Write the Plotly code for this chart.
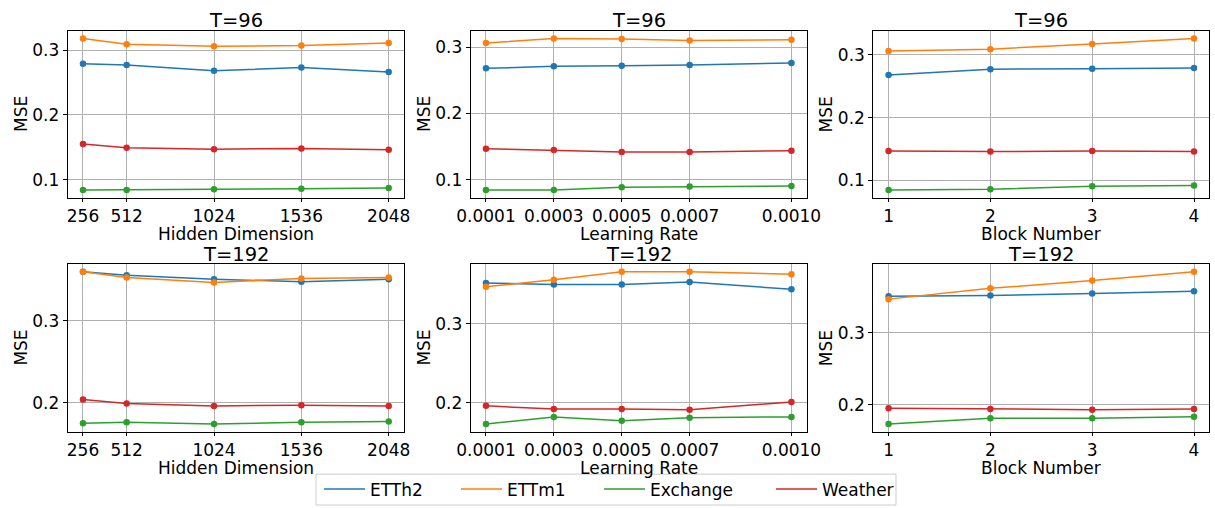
import plotly.graph_objects as go
from plotly.subplots import make_subplots

# ---------------- data ----------------
series_names = ["ETTh2", "ETTm1", "Exchange", "Weather"]
series_colors = ["#1f77b4", "#ff7f0e", "#2ca02c", "#d62728"]

hidden_dims = [256, 512, 1024, 1536, 2048]
learning_rates = [0.0001, 0.0003, 0.0005, 0.0007, 0.0010]
lr_labels = ["0.0001", "0.0003", "0.0005", "0.0007", "0.0010"]
block_numbers = [1, 2, 3, 4]

# T=96
hd96_etth2 = [0.279, 0.277, 0.268, 0.273, 0.266]
hd96_ettm1 = [0.318, 0.309, 0.306, 0.307, 0.311]
hd96_exchange = [0.084, 0.084, 0.085, 0.086, 0.087]
hd96_weather = [0.155, 0.149, 0.147, 0.148, 0.146]

lr96_etth2 = [0.268, 0.271, 0.272, 0.273, 0.276]
lr96_ettm1 = [0.306, 0.313, 0.312, 0.310, 0.311]
lr96_exchange = [0.085, 0.085, 0.089, 0.090, 0.091]
lr96_weather = [0.147, 0.145, 0.142, 0.142, 0.144]

bn96_etth2 = [0.268, 0.277, 0.278, 0.279]
bn96_ettm1 = [0.306, 0.309, 0.317, 0.326]
bn96_exchange = [0.085, 0.086, 0.091, 0.092]
bn96_weather = [0.147, 0.146, 0.147, 0.146]

# T=192
hd192_etth2 = [0.360, 0.356, 0.351, 0.348, 0.351]
hd192_ettm1 = [0.360, 0.353, 0.347, 0.352, 0.353]
hd192_exchange = [0.175, 0.176, 0.174, 0.176, 0.177]
hd192_weather = [0.204, 0.199, 0.196, 0.197, 0.196]

lr192_etth2 = [0.352, 0.350, 0.350, 0.353, 0.344]
lr192_ettm1 = [0.347, 0.356, 0.366, 0.366, 0.363]
lr192_exchange = [0.173, 0.182, 0.177, 0.181, 0.182]
lr192_weather = [0.196, 0.192, 0.192, 0.191, 0.201]

bn192_etth2 = [0.351, 0.352, 0.355, 0.358]
bn192_ettm1 = [0.347, 0.362, 0.373, 0.385]
bn192_exchange = [0.173, 0.181, 0.181, 0.183]
bn192_weather = [0.195, 0.194, 0.193, 0.194]

titles = ["T=96", "T=96", "T=96", "T=192", "T=192", "T=192"]
xlabels = ["Hidden Dimension", "Learning Rate", "Block Number"]
ylabel = "MSE"

panels = [
    (hidden_dims, [hd96_etth2, hd96_ettm1, hd96_exchange, hd96_weather]),
    (learning_rates, [lr96_etth2, lr96_ettm1, lr96_exchange, lr96_weather]),
    (block_numbers, [bn96_etth2, bn96_ettm1, bn96_exchange, bn96_weather]),
    (hidden_dims, [hd192_etth2, hd192_ettm1, hd192_exchange, hd192_weather]),
    (learning_rates, [lr192_etth2, lr192_ettm1, lr192_exchange, lr192_weather]),
    (block_numbers, [bn192_etth2, bn192_ettm1, bn192_exchange, bn192_weather]),
]
xtickvals = [hidden_dims, learning_rates, block_numbers]
xticktext = [[str(v) for v in hidden_dims], lr_labels, [str(v) for v in block_numbers]]

# ---------------- layout geometry (pixels) ----------------
W, H = 1215, 508
col_px = [(67.7, 404.0), (470.7, 806.7), (873.3, 1209.3)]
row_px = [(31.0, 198.3), (265.3, 433.3)]
legend_line_px = [323, 460, 603, 775]
legend_box_px = (316, 896, 476, 507)
FONT = "DejaVu Sans"

fig = make_subplots(rows=2, cols=3)

for i, (xs, ys_list) in enumerate(panels):
    r, c = i // 3 + 1, i % 3 + 1
    for k, ys in enumerate(ys_list):
        fig.add_trace(
            go.Scatter(
                x=xs, y=ys, mode="lines+markers", name=series_names[k],
                line=dict(color=series_colors[k], width=1.5),
                marker=dict(color=series_colors[k], size=6.5),
                legendgroup=series_names[k], showlegend=False,
            ),
            row=r, col=c,
        )

# legend proxies (line only, like the reference legend)
for k, name in enumerate(series_names):
    lg = "legend" if k == 0 else "legend%d" % (k + 1)
    fig.add_trace(go.Scatter(
        x=[None], y=[None], mode="lines", name=name,
        line=dict(color=series_colors[k], width=1.5),
        legendgroup=name, showlegend=True, legend=lg,
    ), row=1, col=1)

annotations = []
for i, (xs, ys_list) in enumerate(panels):
    r, c = i // 3, i % 3
    idx = "" if i == 0 else str(i + 1)
    x0, x1 = col_px[c]
    y0, y1 = row_px[r]
    xmin, xmax = min(xs), max(xs)
    xm = 0.05 * (xmax - xmin)
    allv = [v for ys in ys_list for v in ys]
    ymin, ymax = min(allv), max(allv)
    ym = 0.05 * (ymax - ymin)
    fig.layout["xaxis" + idx].update(
        domain=[x0 / W, x1 / W], range=[xmin - xm, xmax + xm],
        tickvals=xtickvals[c], ticktext=xticktext[c],
        showgrid=True, gridcolor="#b0b0b0", gridwidth=0.8,
        showline=True, mirror=True, linecolor="black", linewidth=1,
        ticks="outside", ticklen=3, tickcolor="black", zeroline=False,
        tickfont=dict(family=FONT, size=17, color="black"), automargin=False,
    )
    fig.layout["yaxis" + idx].update(
        domain=[1 - y1 / H, 1 - y0 / H], range=[ymin - ym, ymax + ym],
        dtick=0.1, tick0=0, tickformat=".1f",
        showgrid=True, gridcolor="#b0b0b0", gridwidth=0.8,
        showline=True, mirror=True, linecolor="black", linewidth=1,
        ticks="outside", ticklen=4, tickcolor="black", zeroline=False,
        tickfont=dict(family=FONT, size=17, color="black"), automargin=False,
    )
    annotations.append(dict(
        text=titles[i], xref="paper", yref="paper",
        x=(x0 + x1) / 2 / W, y=1 - (y0 - 10) / H,
        xanchor="center", yanchor="middle", showarrow=False,
        font=dict(family=FONT, size=19.5, color="black"),
    ))
    annotations.append(dict(
        text=xlabels[c], xref="paper", yref="paper",
        x=(x0 + x1) / 2 / W, y=1 - (y1 + 37) / H,
        xanchor="center", yanchor="middle", showarrow=False,
        font=dict(family=FONT, size=17, color="black"),
    ))
    annotations.append(dict(
        text=ylabel, xref="paper", yref="paper",
        x=(x0 - 47) / W, y=1 - (y0 + y1) / 2 / H,
        xanchor="center", yanchor="middle", showarrow=False, textangle=-90,
        font=dict(family=FONT, size=17, color="black"),
    ))

legend_common = dict(
    orientation="h", xanchor="left", yanchor="middle",
    borderwidth=0, bgcolor="rgba(0,0,0,0)",
    font=dict(family=FONT, size=17, color="black"), itemwidth=41,
)
bx0, bx1, by0, by1 = legend_box_px
legend_y = 1 - (by0 + by1) / 2 / H
legends = {}
for k in range(4):
    key = "legend" if k == 0 else "legend%d" % (k + 1)
    legends[key] = dict(legend_common, x=(legend_line_px[k] - 4) / W, y=legend_y)

fig.update_layout(
    width=W, height=H,
    margin=dict(l=0, r=0, t=0, b=0),
    plot_bgcolor="white", paper_bgcolor="white",
    font=dict(family=FONT, size=17, color="black"),
    annotations=annotations,
    shapes=[dict(
        type="rect", xref="paper", yref="paper",
        x0=bx0 / W, x1=bx1 / W, y0=1 - by1 / H, y1=1 - by0 / H,
        line=dict(color="#cccccc", width=1), fillcolor="rgba(0,0,0,0)",
    )],
    **legends,
)

fig.write_html(
    "out.html",
    config={"displayModeBar": False},
    post_script="document.body.style.margin='0';document.body.style.padding='0';",
)
